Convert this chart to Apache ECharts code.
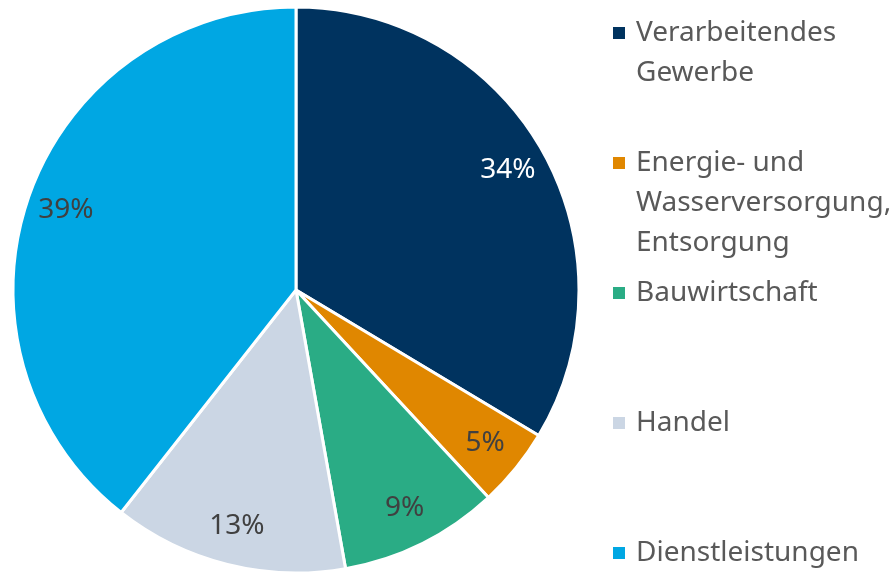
<!DOCTYPE html>
<html>
<head>
<meta charset="utf-8">
<script src="https://cdn.jsdelivr.net/npm/echarts@6/dist/echarts.min.js"></script>
<style>
  html, body { margin: 0; padding: 0; background: #fff; }
  #chart { width: 896px; height: 573px; }
</style>
</head>
<body>
<div id="chart"></div>
<script>
// Anteile der Wirtschaftsbereiche (in %)
const sectors = ['Verarbeitendes Gewerbe', 'Energie- und Wasserversorgung, Entsorgung', 'Bauwirtschaft', 'Handel', 'Dienstleistungen'];
const legendText = ['Verarbeitendes\nGewerbe', 'Energie- und\nWasserversorgung,\nEntsorgung', 'Bauwirtschaft', 'Handel', 'Dienstleistungen'];
const shares = [33.6, 4.5, 9.1, 13.4, 39.4];
const colors = ['#00335f', '#e08700', '#2aac85', '#cbd6e4', '#00a7e3'];
const labelColors = ['#ffffff', '#404040', '#404040', '#404040', '#404040'];

const chart = echarts.init(document.getElementById('chart'));

const cx = 296, cy = 290, R = 283;
const lineH = 40;
const markerY = [33, 163, 293, 423, 553];

// one legend per item; empty lines on top keep the marker on the first text line
const legends = sectors.map((name, i) => {
  const lines = legendText[i].split('\n').length;
  const h = (2 * lines - 1) * lineH;
  const txt = '\n'.repeat(lines - 1) + legendText[i];
  return {
    orient: 'vertical',
    left: 611,
    top: markerY[i] - h / 2,
    padding: 0,
    itemWidth: 14,
    itemHeight: 14,
    itemGap: 0,
    icon: 'rect',
    selectedMode: false,
    data: [{ name, itemStyle: { color: colors[i] } }],
    formatter: () => txt,
    textStyle: {
      fontFamily: 'Noto Sans',
      fontSize: 28,
      color: '#595959',
      lineHeight: lineH,
      padding: [0, 0, 0, 5]
    }
  };
});

chart.setOption({
  animation: false,
  legend: legends,
  series: [
    {
      type: 'pie',
      center: [cx, cy],
      radius: R,
      startAngle: 90,
      silent: true,
      label: { show: false },
      labelLine: { show: false },
      itemStyle: { borderColor: '#ffffff', borderWidth: 3 },
      data: sectors.map((name, i) => ({ name, value: shares[i], itemStyle: { color: colors[i] } }))
    },
    {
      // transparent ring that only carries the percent labels
      type: 'pie',
      center: [cx, cy],
      radius: [R * 0.7, R],
      startAngle: 90,
      silent: true,
      legendHoverLink: false,
      itemStyle: { color: 'rgba(0,0,0,0)', borderWidth: 0 },
      label: {
        show: true,
        position: 'inside',
        formatter: (p) => Math.round(p.value) + '%',
        fontFamily: 'Noto Sans',
        fontSize: 28
      },
      labelLine: { show: false },
      data: sectors.map((name, i) => ({ name, value: shares[i], label: { color: labelColors[i] } }))
    }
  ]
});
</script>
</body>
</html>
